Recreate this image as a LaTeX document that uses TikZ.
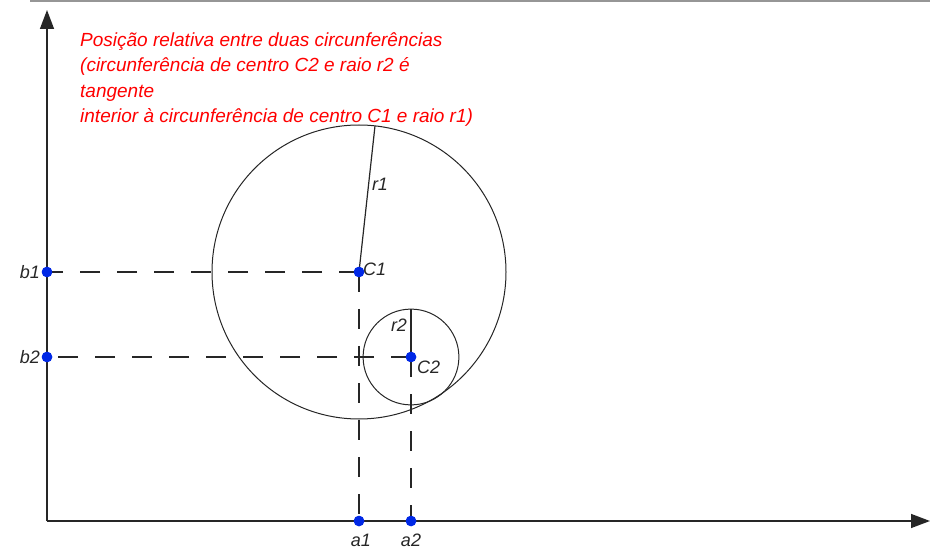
\documentclass[tikz,border=0pt]{standalone}
\usepackage{fontspec}
\setmainfont{Liberation Sans}
\usetikzlibrary{arrows.meta,calc}
\definecolor{ptblue}{RGB}{0,40,230}
\definecolor{topgray}{RGB}{150,150,150}
\tikzset{
  axis/.style={line width=1.4pt, draw=black!85, -{Triangle[length=19pt,width=14pt]}},
  circ/.style={line width=1pt, draw=black!85},
  guide/.style={line width=1.3pt, draw=black!85, dash pattern=on 20pt off 17pt},
  radius line/.style={line width=1.2pt, draw=black!85},
  pt/.style={circle, fill=ptblue, inner sep=0pt, minimum size=10.5pt},
  lbl/.style={font=\fontsize{18}{20}\selectfont\itshape, text=black!85, inner sep=1pt},
  title/.style={font=\fontsize{19}{25.5}\selectfont\itshape, text=red, align=left, inner sep=0pt}
}
\begin{document}
\begin{tikzpicture}[x=1pt,y=-1pt]
\useasboundingbox (0,0) rectangle (930,556);
% top bar artifact
\draw[topgray, line width=2pt] (30,1) -- (930,1);
% origin and axis ends
\coordinate (O) at (47,521);
\coordinate (ytop) at (47,10);
\coordinate (xend) at (930,521);
\draw[axis] (O) -- (ytop);
\draw[axis] (O) -- (xend);
% centers
\coordinate (C1c) at (359,272);
\coordinate (C2c) at (411,357);
% circles
\draw[circ] (C1c) circle[radius=147];
\draw[circ] (C2c) circle[radius=47.9];
% radii
\coordinate (R1) at (375,125.9);
\coordinate (R2) at (411,309.1);
\draw[radius line] (C1c) -- (R1);
\draw[radius line] (C2c) -- (R2);
% points
\node[pt] (C1) at (C1c) {};
\node[pt] (C2) at (C2c) {};
\node[pt] (b1) at (47,272) {};
\node[pt] (b2) at (47,357) {};
\node[pt] (a1) at (359,521) {};
\node[pt] (a2) at (411,521) {};
% guides
\draw[guide] (C1.center) -- (b1.center);
\draw[guide] (C2.center) -- (b2.center);
\draw[guide] (C1.center) -- (a1.center);
\draw[guide] (C2.center) -- (a2.center);
% redraw points over lines
\node[pt] at (C1c) {};
\node[pt] at (C2c) {};
\node[pt] at (47,272) {};
\node[pt] at (47,357) {};
\node[pt] at (359,521) {};
\node[pt] at (411,521) {};
% labels
\node[lbl, anchor=east] (lb1) at (41,272) {b1};
\node[lbl, anchor=east] (lb2) at (41,357) {b2};
\node[lbl, anchor=west] (lC1) at (362,269) {C1};
\node[lbl, anchor=west] (lC2) at (416,367) {C2};
\node[lbl, anchor=north] (la1) at (361,533) {a1};
\node[lbl, anchor=north] (la2) at (411,533) {a2};
\node[lbl] (lr1) at (380,184) {r1};
\node[lbl] (lr2) at (399,325) {r2};
% title
\node[title, anchor=north west] (t) at (80,32) {Posição relativa entre duas circunferências\\(circunferência de centro C2 e raio r2 é\\tangente\\interior à circunferência de centro C1 e raio r1)};
\end{tikzpicture}
\end{document}
